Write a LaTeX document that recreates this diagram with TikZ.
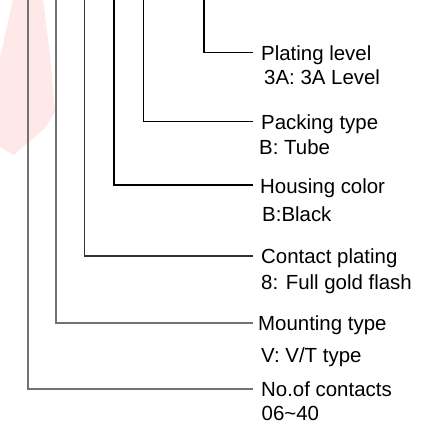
\documentclass[tikz,border=0pt]{standalone}
\usepackage{fontspec}
\setmainfont{Liberation Sans}
\begin{document}
\begin{tikzpicture}[x=1bp,y=-1bp,
  lbl/.style={anchor=base west,inner sep=0pt,font=\fontsize{20.5}{24}\selectfont},
  leadA/.style={draw=black!55,line width=1.3bp},
  leadB/.style={draw=black!80,line width=1.3bp},
  leadC/.style={draw=black,line width=1.2bp}]
\useasboundingbox (0,0) rectangle (440,430);
% faint watermark
\fill[red!9] (13,0) -- (43,0) -- (50,55) -- (55,112) -- (45,128) -- (14,155) -- (0,147) -- (0,58) -- cycle;
% top ends of leaders
\coordinate (t1) at (204,0);
\coordinate (t2) at (143.5,0);
\coordinate (t3) at (114,0);
\coordinate (t4) at (84.5,0);
\coordinate (t5) at (56,0);
\coordinate (t6) at (28,0);
% right ends of leaders
\coordinate (e1) at (253,52.5);
\coordinate (e2) at (253,121.5);
\coordinate (e3) at (253,185);
\coordinate (e4) at (253,256);
\coordinate (e5) at (253,323);
\coordinate (e6) at (253,389);
% labels
\node[lbl] (h1) at (261,60) {Plating level};
\node[lbl] (v1) at (264,84.5) {3A: 3A Level};
\node[lbl] (h2) at (261,129) {Packing type};
\node[lbl] (v2) at (259,154) {B: Tube};
\node[lbl] (h3) at (260,193) {Housing color};
\node[lbl] (v3) at (262,221.5) {B:Black};
\node[lbl] (h4) at (261,263) {Contact plating};
\node[lbl] (v4) at (261,289) {8: Full gold flash};
\node[lbl] (h5) at (258,330) {Mounting type};
\node[lbl] (v5) at (261,362) {V: V/T type};
\node[lbl] (h6) at (261,396) {No.of contacts};
\node[lbl] (v6) at (261.5,420.5) {06\char`\~40};
% leaders
\draw[leadC] (t1) |- (e1);
\draw[leadC] (t2) |- (e2);
\draw[leadC] (t3) |- (e3);
\draw[leadB] (t4) |- (e4);
\draw[leadA] (t5) |- (e5);
\draw[leadA] (t6) |- (e6);
\end{tikzpicture}
\end{document}
